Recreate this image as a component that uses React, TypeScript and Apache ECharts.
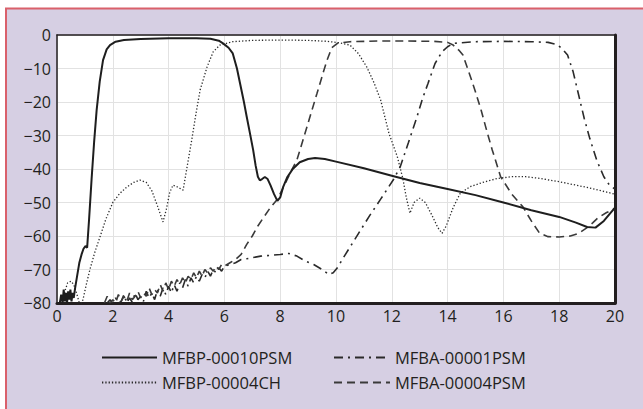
import React, { useEffect, useRef } from "react";
import * as echarts from "echarts";

const seriesNames = ["MFBP-00010PSM", "MFBP-00004CH", "MFBA-00001PSM", "MFBA-00004PSM"];

// frequency (GHz), response (dB)
const mfbp00010psm: [number, number][] = [
  [0.1, -80], [0.15, -77.5], [0.2, -80], [0.24, -76], [0.28, -79.5], [0.32, -77], [0.36, -80],
  [0.4, -76.5], [0.44, -79], [0.48, -76], [0.52, -79.5], [0.56, -77], [0.6, -78.5], [0.65, -75.5],
  [0.72, -72], [0.8, -68], [0.88, -65.5], [0.95, -63.8], [1.02, -63], [1.08, -63.5], [1.15, -55],
  [1.24, -43], [1.33, -32], [1.42, -22.5], [1.53, -14], [1.65, -7.5], [1.78, -4.3], [1.9, -3],
  [2.1, -2], [2.4, -1.5], [3, -1.2], [4, -1], [5, -1], [5.5, -1.1], [5.8, -1.7], [5.95, -2.5],
  [6.15, -3.8], [6.3, -5.5], [6.45, -10], [6.56, -14.4], [6.7, -20], [6.8, -24.4], [6.92, -29.5],
  [7.03, -34.3], [7.12, -39], [7.2, -42.3], [7.27, -43.4], [7.35, -43], [7.45, -42.4], [7.55, -43],
  [7.65, -44.8], [7.78, -47.5], [7.9, -49.5], [8.0, -48.5], [8.1, -45.5], [8.25, -42.5], [8.45, -40],
  [8.7, -38], [9.0, -37], [9.25, -36.7], [9.6, -37], [10, -37.8], [11, -39.8], [12, -42], [13, -44.2],
  [14, -46], [15, -47.8], [16, -50], [17, -52.3], [18, -54.3], [18.6, -56], [19, -57.3], [19.3, -57.5],
  [19.6, -55.5], [20, -51.5],
];

const mfbp00004ch: [number, number][] = [
  [0.2, -80], [0.28, -76.5], [0.38, -74], [0.5, -73.5], [0.6, -74.5], [0.7, -77], [0.8, -80],
  [0.88, -80], [0.93, -79], [1.05, -74.5], [1.18, -70], [1.35, -65], [1.54, -60.3], [1.75, -55],
  [2.0, -50], [2.25, -47.3], [2.5, -45.4], [2.75, -44], [2.97, -43.3], [3.2, -44], [3.4, -46.5],
  [3.6, -51], [3.8, -55.8], [3.92, -52], [4.04, -47], [4.16, -44.8], [4.3, -45.3], [4.52, -46.3],
  [4.67, -39], [4.83, -31.3], [4.98, -23.5], [5.13, -16.4], [5.38, -9.5], [5.6, -5], [5.84, -3],
  [6.3, -2], [7, -1.6], [8, -1.5], [9, -1.6], [9.7, -1.9], [10.1, -2.3], [10.5, -3], [10.8, -5.5],
  [11.1, -9.5], [11.35, -14], [11.6, -19.4], [11.9, -29.4], [12.2, -36.4], [12.4, -43], [12.52, -48.5],
  [12.65, -53.2], [12.8, -50], [13.0, -48.7], [13.2, -50], [13.45, -54], [13.65, -57.5], [13.8, -59.2],
  [13.95, -57], [14.2, -51.5], [14.45, -47.3], [14.8, -45.3], [15.3, -43.9], [15.8, -42.8],
  [16.3, -42.3], [16.8, -42.3], [17.3, -42.8], [18, -43.8], [19, -45.5], [20, -47.5],
];

const mfba00001psm: [number, number][] = [
  [1.8, -80], [1.9, -79], [2.0, -80], [2.1, -78.5], [2.2, -80], [2.3, -79.5], [2.4, -77.5], [2.5, -80],
  [2.6, -78.5], [2.7, -79.8], [2.8, -77], [2.9, -79], [3.0, -78], [3.1, -79.5], [3.2, -76.5], [3.3, -78.5],
  [3.4, -77], [3.5, -79], [3.6, -76], [3.7, -78], [3.8, -75.5], [3.9, -77.5], [4.0, -75], [4.1, -77],
  [4.2, -74.5], [4.3, -76.5], [4.4, -74], [4.5, -75.5], [4.6, -73], [4.7, -75], [4.8, -72.5], [4.9, -74],
  [5.0, -72], [5.1, -73.5], [5.2, -71.5], [5.3, -72.5], [5.4, -70.5], [5.5, -72], [5.6, -70], [5.7, -71],
  [5.8, -69.5], [5.9, -70.5], [6.0, -69], [6.2, -68.5], [6.4, -68], [6.6, -67], [6.8, -66.8], [7.0, -66.5],
  [7.3, -66], [7.6, -65.8], [8.0, -65.5], [8.3, -65.2], [8.6, -66], [8.9, -67.5], [9.2, -68.5], [9.5, -70],
  [9.75, -71.5], [9.9, -71], [10.05, -69.5], [10.3, -66], [10.6, -62], [10.9, -58], [11.2, -54],
  [11.6, -49], [12.05, -43.3], [12.3, -39.4], [12.6, -32], [12.9, -24.5], [13.1, -19], [13.3, -14.4],
  [13.55, -8.5], [13.8, -5], [14.0, -3.5], [14.2, -2.5], [15, -2], [16, -1.9], [17, -2], [17.6, -2.2],
  [17.9, -2.8], [18.1, -4], [18.3, -6], [18.5, -11], [18.7, -18], [18.9, -25], [19.1, -31],
  [19.35, -37.5], [19.6, -42.3], [19.8, -44.8], [20, -46],
];

const mfba00004psm: [number, number][] = [
  [1.7, -80], [1.8, -78], [1.9, -80], [2.0, -79], [2.1, -80], [2.2, -77.5], [2.3, -79.5], [2.4, -78],
  [2.5, -79.5], [2.6, -77], [2.7, -79], [2.8, -78], [2.9, -76.5], [3.0, -78.5], [3.1, -77], [3.2, -78],
  [3.3, -75.5], [3.4, -77.5], [3.5, -76], [3.6, -77], [3.7, -74.5], [3.8, -76.5], [3.9, -74], [4.0, -76],
  [4.1, -73.5], [4.2, -75], [4.3, -73], [4.4, -74.5], [4.5, -72.5], [4.6, -74], [4.7, -72], [4.8, -73],
  [4.9, -71], [5.0, -72.5], [5.1, -70.5], [5.2, -72], [5.3, -70], [5.4, -71], [5.5, -69.5], [5.6, -70.5],
  [5.7, -69], [5.8, -70], [5.9, -68.5], [6.0, -69], [6.2, -68], [6.4, -67], [6.6, -65.5], [6.8, -62.5],
  [7.0, -60], [7.2, -57], [7.4, -54.5], [7.65, -51.5], [7.9, -49], [8.2, -44], [8.4, -40.5],
  [8.6, -37.3], [8.96, -27.4], [9.32, -17.4], [9.55, -11], [9.68, -7.5], [9.85, -3.8], [10.05, -2.5],
  [10.5, -2], [11.5, -1.8], [12.5, -1.8], [13.5, -1.9], [14.0, -2.2], [14.2, -3], [14.4, -4.5],
  [14.55, -6], [14.8, -12], [15.0, -17], [15.2, -22.4], [15.4, -28.5], [15.6, -34.3], [15.9, -42.3],
  [16.3, -47.5], [16.7, -51.3], [17.0, -55.5], [17.3, -59.2], [17.6, -60.2], [18.0, -60.3], [18.4, -60],
  [18.7, -59.2], [19.0, -57.5], [19.2, -56.1], [19.4, -54.5], [19.7, -53], [20, -51.8],
];

const xMin = 0, xMax = 20, xStep = 2;
const yMin = -80, yMax = 0, yStep = 10;

const FONT = "'Open Sans', Lato, sans-serif";
const INK = "#231f20";

export default function App() {
  const ref = useRef<HTMLDivElement>(null);
  useEffect(() => {
    if (!ref.current) return;
    const chart = echarts.init(ref.current, null, { renderer: "svg" });
    const axisLabel = { fontFamily: FONT, fontSize: 16, color: INK };
    const legendBase = {
      orient: "vertical", top: 344, itemHeight: 14, itemGap: 8, selectedMode: false, padding: 5,
      itemStyle: { opacity: 0 },
      textStyle: { fontFamily: FONT, fontSize: 16.5, color: INK },
    };
    chart.setOption({
      animation: false,
      backgroundColor: "#ffffff",
      graphic: [
        {
          type: "rect",
          z: -10,
          shape: { x: 6, y: 8.5, width: 700, height: 500 },
          style: { fill: "#d6cfe3", stroke: "#d9606b", lineWidth: 2 },
        },
      ],
      grid: { left: 57, right: 28, top: 35, bottom: 106, show: true, backgroundColor: "#ffffff", borderWidth: 0 },
      xAxis: [
        {
          type: "value", min: xMin, max: xMax, interval: xStep, position: "bottom",
          axisLine: { show: true, onZero: false, lineStyle: { color: INK, width: 3 } },
          axisTick: { show: false },
          axisLabel: { ...axisLabel, margin: 5 },
          splitLine: { show: true, lineStyle: { color: "#e2e2e2", width: 1 } },
        },
        {
          type: "value", min: xMin, max: xMax, interval: xStep, position: "top",
          axisLine: { show: true, onZero: false, lineStyle: { color: INK, width: 1.5 } },
          axisTick: { show: false }, axisLabel: { show: false }, splitLine: { show: false },
        },
      ],
      yAxis: [
        {
          type: "value", min: yMin, max: yMax, interval: yStep, position: "left",
          axisLine: { show: true, onZero: false, lineStyle: { color: INK, width: 1.5 } },
          axisTick: { show: false },
          axisLabel: { ...axisLabel, margin: 6, formatter: (v: number) => String(v).replace("-", "\u2212") },
          splitLine: { show: true, lineStyle: { color: "#e2e2e2", width: 1 } },
        },
        {
          type: "value", min: yMin, max: yMax, interval: yStep, position: "right",
          axisLine: { show: true, onZero: false, lineStyle: { color: INK, width: 3 } },
          axisTick: { show: false }, axisLabel: { show: false }, splitLine: { show: false },
        },
      ],
      legend: [
        { ...legendBase, data: [seriesNames[0], seriesNames[1]], left: 96, itemWidth: 55 },
        { ...legendBase, data: [seriesNames[2], seriesNames[3]], left: 328, itemWidth: 56 },
      ],
      series: [
        {
          name: seriesNames[0], type: "line", data: mfbp00010psm, symbol: "none", z: 5,
          lineStyle: { color: "#1e1e1e", width: 2, type: "solid" }, itemStyle: { color: "#1e1e1e" },
        },
        {
          name: seriesNames[1], type: "line", data: mfbp00004ch, symbol: "none", z: 4,
          lineStyle: { color: "#2a2a2a", width: 1.3, type: [1.3, 2] }, itemStyle: { color: "#2a2a2a" },
        },
        {
          name: seriesNames[2], type: "line", data: mfba00001psm, symbol: "none", z: 3,
          lineStyle: { color: "#2a2a2a", width: 1.6, type: [9, 5, 2, 5] }, itemStyle: { color: "#2a2a2a" },
        },
        {
          name: seriesNames[3], type: "line", data: mfba00004psm, symbol: "none", z: 3,
          lineStyle: { color: "#3a3a3a", width: 1.6, type: [8, 5] }, itemStyle: { color: "#3a3a3a" },
        },
      ],
    });
    return () => chart.dispose();
  }, []);
  return (
    <div style={{ position: "fixed", left: 0, top: 0, width: 643, height: 409 }}>
      <div ref={ref} style={{ width: 643, height: 409 }} />
    </div>
  );
}
